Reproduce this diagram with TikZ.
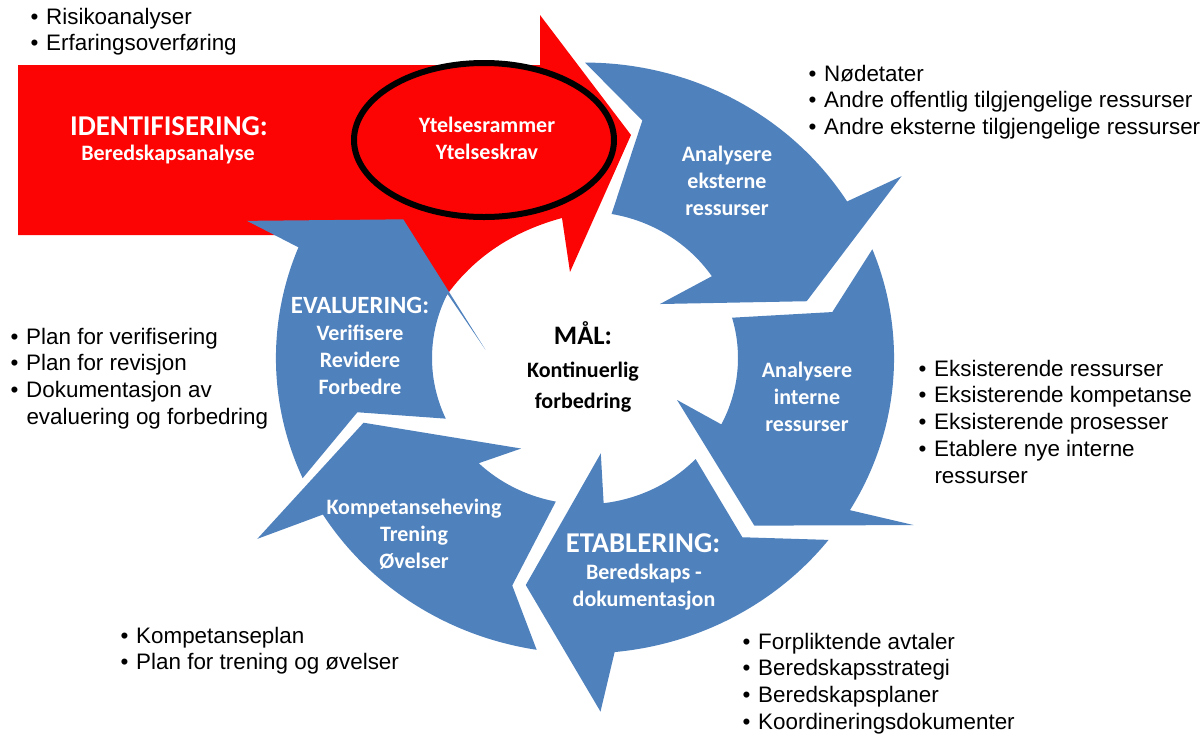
\documentclass[tikz,border=0pt]{standalone}
\usepackage{fontspec}
\setmainfont{Liberation Sans}
\newfontfamily\calibrifont{Carlito}
\usepackage{tikz}
\tikzset{every picture/.style={line width=0.75pt}}
\definecolor{cycleblue}{RGB}{79,129,189}
\definecolor{identred}{RGB}{252,4,4}
\tikzset{
  segfill/.style={fill=cycleblue},
  seglabel/.style={text=white, align=center, inner sep=0pt, font=\calibrifont\bfseries\fontsize{16.5}{20.25}\selectfont},
  seghead/.style={text=white, inner sep=0pt, font=\calibrifont\bfseries\fontsize{21.5}{24}\selectfont},
  bulletline/.style={anchor=base west, inner sep=0pt, font=\fontsize{16.8}{20}\selectfont},
}
\newcommand{\bul}{\makebox[11.8pt][l]{\textbullet}}

\begin{document}
\begin{tikzpicture}[x=0.75pt,y=0.75pt,yscale=-1,xscale=1]
\useasboundingbox (0,0) rectangle (1204,733);
%Shape: Right Arrow [identifisering]
\fill[identred] (18,65) -- (540,65) -- (540,15) -- (631,135) -- (570,272) -- (562,218) .. controls (525,228) and (475,250) .. (440,305) -- (405,235) -- (18,235) -- cycle ;

\begin{scope}[shift={(585,358)}, xscale=1.02, yscale=0.975]
%Shape: Circular Arrow [analysere eksterne]
\fill[segfill] (-90:303) arc[start angle=-90, end angle=-32, radius=303] -- (-31:362) -- (-15:225) -- (-37:92) -- (-34:150) arc[start angle=-34, end angle=-80, radius=150] -- (-77:250) -- cycle ;
%Shape: Circular Arrow [analysere interne]
\fill[segfill] (-21.6:303) arc[start angle=-21.6, end angle=31, radius=303] -- (28:365) -- (46:239) -- (25.5:100) -- (27:150) arc[start angle=27, end angle=-16, radius=150] -- (-11:247) -- cycle ;
%Shape: Circular Arrow [etablering]
\fill[segfill] (38:303) arc[start angle=38, end angle=84.5, radius=303] -- (87.6:363) -- (104:240) -- (81:99) -- (83:150) arc[start angle=83, end angle=43.7, radius=150] -- (50:240) -- cycle ;
%Shape: Circular Arrow [kompetanse]
\fill[segfill] (99:303) arc[start angle=99, end angle=148, radius=303] -- (150:371) -- (163:227) -- (124:112) -- (134:150) arc[start angle=134, end angle=101, radius=150] -- (107:244) -- cycle ;
%Shape: Circular Arrow [evaluering]
\fill[segfill] (156:303) arc[start angle=156, end angle=202, radius=303] -- (203:360) -- (218.6:228) -- (185:98) -- (206:150) arc[start angle=206, end angle=155.5, radius=150] -- (166:230) -- cycle ;
\end{scope}

%Shape: Ellipse [ytelse]
\draw[line width=4.5pt, fill=identred] (484,140) ellipse [x radius=130, y radius=77] ;

% Text Node
\node[seghead] (identHead) at (169,126) {IDENTIFISERING:};
% Text Node
\node[seglabel] (identSub) at (168,155) {Beredskapsanalyse};
% Text Node
\node[seglabel] (ytelse) at (487,138) {Ytelsesrammer\\Ytelseskrav};
% Text Node
\node[seglabel] (eksterne) at (727,181) {Analysere\\eksterne\\ressurser};
% Text Node
\node[seglabel] (interne) at (807,397) {Analysere\\interne\\ressurser};
% Text Node
\node[seghead] (etabHead) at (643,543) {ETABLERING:};
% Text Node
\node[seglabel] (etabSub) at (644,587) {Beredskaps -\\dokumentasjon};
% Text Node
\node[seglabel] (kompetanse) at (414,534) {Kompetanseheving\\Trening\\Øvelser};
% Text Node
\node[seghead, font=\calibrifont\bfseries\fontsize{18.6}{22}\selectfont] (evalHead) at (360,305) {EVALUERING:};
% Text Node
\node[seglabel] (evalSub) at (360,360) {Verifisere\\Revidere\\Forbedre};
% Text Node
\node[seghead, text=black, font=\calibrifont\bfseries\fontsize{20}{24}\selectfont] (maal) at (583,333) {MÅL:};
% Text Node
\node[seglabel, text=black, font=\calibrifont\bfseries\fontsize{16.5}{23.5}\selectfont] (maalSub) at (583,387) {Kontinuerlig\\forbedring};

% Text Node: bullet lists
\foreach \txt [count=\i] in {Risikoanalyser, Erfaringsoverføring}
  \node[bulletline] (topleft\i) at (30,{24+26.5*(\i-1)}) {\bul\txt};
\foreach \txt [count=\i] in {Nødetater, Andre offentlig tilgjengelige ressurser, Andre eksterne tilgjengelige ressurser}
  \node[bulletline] (topright\i) at (808,{81+26.5*(\i-1)}) {\bul\txt};
\foreach \txt [count=\i] in {Eksisterende ressurser, Eksisterende kompetanse, Eksisterende prosesser, Etablere nye interne}
  \node[bulletline] (right\i) at (918,{376+26.7*(\i-1)}) {\bul\txt};
\node[bulletline] (right5) at (934,483) {ressurser};
\foreach \txt [count=\i] in {Plan for verifisering, Plan for revisjon, Dokumentasjon av}
  \node[bulletline] (left\i) at (10,{344+26.7*(\i-1)}) {\bul\txt};
\node[bulletline] (left4) at (26,424) {evaluering og forbedring};
\foreach \txt [count=\i] in {Kompetanseplan, Plan for trening og øvelser}
  \node[bulletline] (botleft\i) at (120,{643+26.7*(\i-1)}) {\bul\txt};
\foreach \txt [count=\i] in {Forpliktende avtaler, Beredskapsstrategi, Beredskapsplaner, Koordineringsdokumenter}
  \node[bulletline] (botright\i) at (742,{649+26.7*(\i-1)}) {\bul\txt};
\end{tikzpicture}
\end{document}
